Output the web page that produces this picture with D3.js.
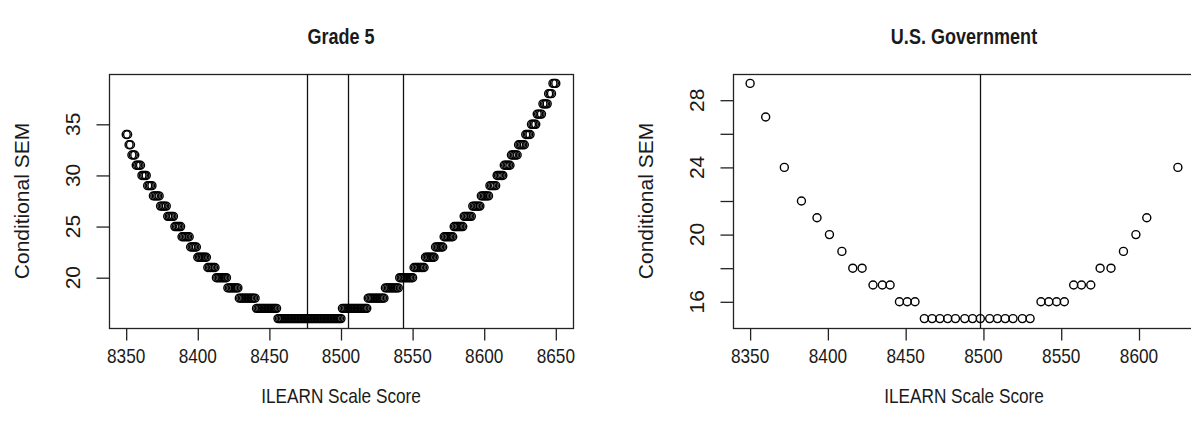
<!DOCTYPE html>
<html>
<head>
<meta charset="utf-8">
<script src="https://cdn.jsdelivr.net/npm/d3@7"></script>
<style>
  body { margin: 0; background: #fff; }
  svg { display: block; font-family: "Liberation Sans", Arial, sans-serif; }
</style>
</head>
<body>
<svg id="chart" width="1191" height="431"></svg>
<script>
// Grade 5: runs of equal conditional SEM (first score of each run)
const gradeSem   = [34, 33, 32, 31, 30, 29, 28, 27, 26, 25, 24, 23, 22, 21, 20, 19, 18, 17, 16,
                    17, 18, 19, 20, 21, 22, 23, 24, 25, 26, 27, 28, 29, 30, 31, 32, 33, 34, 35, 36, 37, 38, 39]
const gradeStart = [8350, 8352, 8354, 8357, 8361, 8365, 8369, 8374, 8379, 8384, 8389, 8395, 8400, 8407, 8413, 8421, 8429, 8441, 8456,
                    8501, 8519, 8531, 8541, 8551, 8559, 8566, 8572, 8579, 8586, 8592, 8598, 8604, 8609, 8614, 8619, 8624, 8629, 8633, 8637, 8641, 8645, 8648]
const gradeEnd = 8650
const gradeCuts = [8476, 8505, 8543]

// U.S. Government: individual points
const govScore = [8350, 8360, 8372, 8383, 8393, 8401, 8409, 8416, 8422, 8429, 8435, 8440, 8446, 8451, 8456,
                  8462, 8467, 8472, 8477, 8482, 8488, 8493, 8498, 8504, 8509, 8514, 8519, 8525, 8530,
                  8537, 8542, 8547, 8552, 8558, 8563, 8569, 8575, 8582, 8590, 8598, 8605, 8625]
const govSem   = [29, 27, 24, 22, 21, 20, 19, 18, 18, 17, 17, 17, 16, 16, 16,
                  15, 15, 15, 15, 15, 15, 15, 15, 15, 15, 15, 15, 15, 15,
                  16, 16, 16, 16, 17, 17, 17, 18, 18, 19, 20, 21, 24]
const govCuts = [8498]

const gradeXTicks = [8350, 8400, 8450, 8500, 8550, 8600, 8650]
const gradeYTicks = [20, 25, 30, 35]
const govXTicks = [8350, 8400, 8450, 8500, 8550, 8600]
const govYTicks = [16, 18, 20, 22, 24, 26, 28]
const govYLabels = [16, 20, 24, 28]

// expand the runs into one point per scale score
const gradePoints = []
gradeStart.forEach((s, i) => {
  const stop = i < gradeStart.length - 1 ? gradeStart[i + 1] : gradeEnd + 1
  for (let x = s; x < stop; x++) gradePoints.push({ x: x, y: gradeSem[i] })
})
const govPoints = govScore.map((s, i) => ({ x: s, y: govSem[i] }))

const svg = d3.select('#chart')
const FS = 21       // label font size
const SX = 0.82     // the flat text in the picture looks a bit narrow
const INK = '#1a1a1a'

// R style: pad the data range by 4% on each side
function rExtent(vals) {
  const [lo, hi] = d3.extent(vals)
  const pad = (hi - lo) * 0.04
  return [lo - pad, hi + pad]
}

// flat text centred on (x, cy)
function flatText(g, x, cy, str, size, bold) {
  g.append('g').attr('transform', `translate(${x},${cy + size * 0.36}) scale(${SX},1)`)
    .append('text').attr('text-anchor', 'middle').attr('font-size', size)
    .attr('font-weight', bold ? 'bold' : null).attr('fill', INK).text(str)
}

// rotated text centred on (cx, y)
function upText(g, cx, y, str, size) {
  g.append('text')
    .attr('transform', `translate(${cx + size * 0.36},${y}) rotate(-90)`)
    .attr('text-anchor', 'middle').attr('font-size', size).attr('fill', INK).text(str)
}

function panel(opts) {
  const { left, right, top, bottom, points, cuts, xTicks, yTicks, yLabels, title } = opts
  const x = d3.scaleLinear().domain(rExtent(points.map(d => d.x))).range([left, right])
  const y = d3.scaleLinear().domain(rExtent(points.map(d => d.y))).range([bottom, top])
  const g = svg.append('g')

  // box
  g.append('rect')
    .attr('x', left + 0.5).attr('y', top + 0.5)
    .attr('width', right - left).attr('height', bottom - top)
    .attr('fill', 'none').attr('stroke', '#222').attr('stroke-width', 1.3)

  // cut score lines
  g.selectAll('.cut').data(cuts).enter().append('line')
    .attr('x1', d => Math.round(x(d)) + 0.5).attr('x2', d => Math.round(x(d)) + 0.5)
    .attr('y1', top).attr('y2', bottom)
    .attr('stroke', '#111').attr('stroke-width', 1.3)

  // points
  g.selectAll('.pt').data(points).enter().append('circle')
    .attr('cx', d => x(d.x)).attr('cy', d => y(d.y)).attr('r', 4)
    .attr('fill', 'none').attr('stroke', '#000').attr('stroke-width', 1.4)

  // x axis
  const xa = g.append('g').attr('transform', `translate(0,${bottom + 0.5})`)
    .call(d3.axisBottom(x).tickValues(xTicks).tickSize(12).tickFormat(''))
  xa.select('.domain').remove()
  xa.selectAll('line').attr('stroke', '#222').attr('stroke-width', 1.3)
  xTicks.forEach(t => flatText(g, x(t), 355, t, FS))

  // y axis
  const ya = g.append('g').attr('transform', `translate(${left + 0.5},0)`)
    .call(d3.axisLeft(y).tickValues(yTicks).tickSize(13).tickFormat(''))
  ya.select('.domain').remove()
  ya.selectAll('line').attr('stroke', '#222').attr('stroke-width', 1.3)
  yLabels.forEach(t => upText(g, left - 36.5, y(t), t, FS))

  // titles
  const cx = (left + right) / 2
  flatText(g, cx, 36, title, 22, true)
  flatText(g, cx, 395, 'ILEARN Scale Score', FS)
  upText(g, left - 88, (top + bottom) / 2, 'Conditional SEM', 21)
}

panel({ left: 109, right: 573, top: 74, bottom: 328, points: gradePoints, cuts: gradeCuts,
        xTicks: gradeXTicks, yTicks: gradeYTicks, yLabels: gradeYTicks, title: 'Grade 5' })
panel({ left: 733, right: 1195, top: 74, bottom: 328, points: govPoints, cuts: govCuts,
        xTicks: govXTicks, yTicks: govYTicks, yLabels: govYLabels, title: 'U.S. Government' })
</script>
</body>
</html>
